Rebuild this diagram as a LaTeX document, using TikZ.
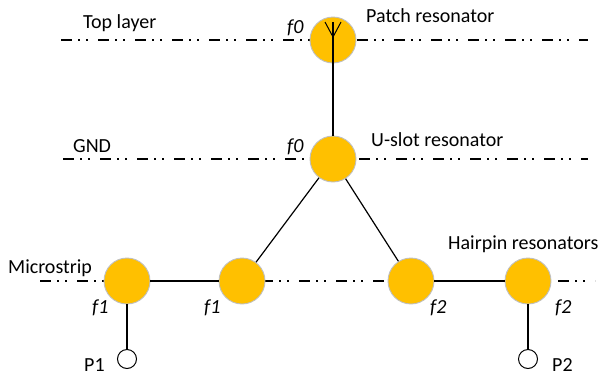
\documentclass[tikz,border=0pt]{standalone}
\usepackage{fontspec}
\setmainfont{Carlito}
\definecolor{resfill}{HTML}{FFC000}
\definecolor{resedge}{HTML}{BFBFBF}
\begin{document}
\begin{tikzpicture}[x=1pt,y=-1pt,
  res/.style={circle,fill=resfill,draw=resedge,line width=0.9pt,minimum size=46pt,inner sep=0pt},
  port/.style={circle,draw=black,fill=white,line width=1pt,minimum size=19pt,inner sep=0pt},
  layer/.style={line width=1.2pt,dash pattern=on 11pt off 6pt on 2pt off 6pt on 2pt off 10pt},
  conn/.style={line width=1.2pt},
  lbl/.style={font=\fontsize{20}{22}\selectfont,anchor=base west,inner sep=0pt},
  flbl/.style={font=\fontsize{20}{22}\selectfont\itshape,anchor=base west,inner sep=0pt}]
\useasboundingbox (0,0) rectangle (599,378);
% layer lines
\coordinate (tl) at (61,40); \coordinate (tr) at (588,40);
\coordinate (gl) at (63,159); \coordinate (gr) at (588,159);
\coordinate (ml) at (40,281); \coordinate (mr) at (595,281);
\draw[layer] (tl) -- (tr);
\draw[layer] (gl) -- (gr);
\draw[layer] (ml) -- (mr);
% resonators
\node[res] (patch) at (333,40) {};
\node[res] (uslot) at (333,159) {};
\node[res] (b1) at (127,281) {};
\node[res] (b2) at (242,281) {};
\node[res] (b3) at (411,281) {};
\node[res] (b4) at (528,281) {};
\node[port] (p1) at (127,359) {};
\node[port] (p2) at (528,359) {};
% antenna symbol
\coordinate (ant) at (333,22);
\coordinate (antl) at (325,22);
\coordinate (antr) at (341,22);
\coordinate (antc) at (333,37);
\draw[conn] (ant) -- (uslot);
\draw[line width=1pt] (antl) -- (antc) -- (antr);
% connectors
\draw[conn] (uslot) -- (b2);
\draw[conn] (uslot) -- (b3);
\draw[conn] (b1) -- (b2);
\draw[conn] (b3) -- (b4);
\draw[conn] (b1) -- (p1);
\draw[conn] (b4) -- (p2);
% labels
\node[lbl] (ltop) at (83,28) {Top layer};
\node[lbl] (lgnd) at (73,152) {GND};
\node[lbl] (lmic) at (8,273) {Microstrip};
\node[lbl] (lpatch) at (366,22) {Patch resonator};
\node[lbl] (lus) at (371,146) {U-slot resonator};
\node[lbl] (lhp) at (448,249) {Hairpin resonators};
\node[lbl] (lp1) at (84,371) {P1};
\node[lbl] (lp2) at (552,371) {P2};
\node[flbl] (f0a) at (287,33) {f0};
\node[flbl] (f0b) at (287,152) {f0};
\node[flbl] (f1a) at (92,313) {f1};
\node[flbl] (f1b) at (204,313) {f1};
\node[flbl] (f2a) at (430,313) {f2};
\node[flbl] (f2b) at (555,313) {f2};
\end{tikzpicture}
\end{document}
